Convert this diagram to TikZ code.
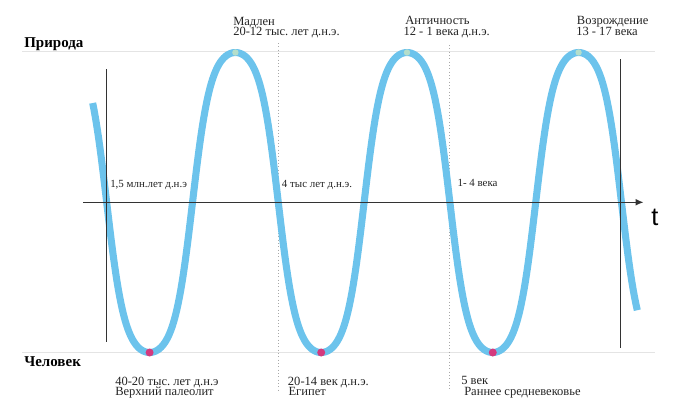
\documentclass[tikz,border=0pt]{standalone}
\usepackage{fontspec}
\setmainfont{Liberation Serif}
\newfontfamily\tfont{Liberation Sans}
\usetikzlibrary{arrows.meta}
\definecolor{wavec}{HTML}{6CC3EC}
\definecolor{peakc}{HTML}{B4DECB}
\definecolor{troughc}{HTML}{D43A7E}
\definecolor{gridc}{HTML}{E4E4E4}
\definecolor{dotc}{HTML}{A8A8A8}
\definecolor{axisc}{HTML}{333333}
\definecolor{txtc}{HTML}{222222}
\frenchspacing
\begin{document}
\begin{tikzpicture}[x=0.75pt,y=-0.75pt,
  lbl/.style={font=\fontsize{9.4}{10}\selectfont, anchor=base west, inner sep=0pt, text=txtc},
  midlbl/.style={font=\fontsize{8.2}{9}\selectfont, anchor=base west, inner sep=0pt, text=txtc},
  pole/.style={font=\bfseries\fontsize{11.25}{12}\selectfont, anchor=base west, inner sep=0pt, text=black},
  gridline/.style={gridc, line width=0.6pt},
  dotline/.style={dotc, dotted, line width=0.5pt},
  blackline/.style={axisc, line width=0.9pt},
  wave/.style={wavec, line width=5.3pt},
  peakdot/.style={fill=peakc, draw=none},
  troughdot/.style={fill=troughc, draw=none}]
\useasboundingbox (0,0) rectangle (697,418);

% faint horizontal guide lines
\coordinate (gtl) at (22,51.5);  \coordinate (gtr) at (655,51.5);
\coordinate (gbl) at (22,352.5); \coordinate (gbr) at (655,352.5);
\draw[gridline] (gtl) -- (gtr);
\draw[gridline] (gbl) -- (gbr);

% dotted period separators
\coordinate (d1t) at (278.5,43); \coordinate (d1b) at (278.5,390);
\coordinate (d2t) at (449.5,45); \coordinate (d2b) at (449.5,390);
\draw[dotline] (d1t) -- (d1b);
\draw[dotline] (d2t) -- (d2b);

% wave
\draw[wave] plot[domain=92.7:637.3, samples=400, smooth]
  (\x, {202.5+150*tanh(1.35*sin(2.0979*(\x-106.7)))/0.8741});

% black vertical lines
\coordinate (v1t) at (106.7,69.3); \coordinate (v1b) at (106.7,341.7);
\coordinate (v2t) at (620.5,59.3); \coordinate (v2b) at (620.5,348.3);
\draw[blackline] (v1t) -- (v1b);
\draw[blackline] (v2t) -- (v2b);

% time axis
\coordinate (ax0) at (83.3,202.3); \coordinate (ax1) at (643.5,202.3);
\draw[blackline, -{Latex[length=6pt,width=5.2pt]}] (ax0) -- (ax1);
\node[inner sep=0pt, text=black] (t) at (655,217.5) {\tfont\fontsize{19}{20}\selectfont t};

% peak and trough markers
\foreach \px in {235.4, 407, 578.6}
  \fill[peakdot] (\px,52.5) circle (3.2);
\foreach \px in {149.6, 321.2, 492.8}
  \fill[troughdot] (\px,352.5) circle (4);

% pole labels
\node[pole] (nat) at (24,47) {Природа};
\node[pole] (hum) at (24,366) {Человек};

% top labels
\node[lbl] (m1) at (233,25) {Мадлен};
\node[lbl] (m2) at (233,35.7) {20-12 тыс. лет д.н.э.};
\node[lbl] (a1) at (405,24.5) {Античность};
\node[lbl] (a2) at (403.3,35.7) {12 - 1 века д.н.э.};
\node[lbl] (r1) at (576.7,24.5) {Возрождение};
\node[lbl] (r2) at (576,35.7) {13 - 17 века};

% middle labels
\node[midlbl] (c1) at (110,187.3) {1,5 млн.лет д.н.э};
\node[midlbl] (c2) at (281.7,187) {4 тыс лет д.н.э.};
\node[midlbl] (c3) at (457.3,186.7) {1- 4 века};

% bottom labels
\node[lbl] (b1) at (115,385) {40-20 тыс. лет д.н.э};
\node[lbl] (b2) at (115,395.5) {Верхний палеолит};
\node[lbl] (e1) at (287.7,385) {20-14 век д.н.э.};
\node[lbl] (e2) at (288.3,395.5) {Египет};
\node[lbl] (s1) at (461,384.5) {5 век};
\node[lbl] (s2) at (464,395.5) {Раннее средневековье};
\end{tikzpicture}
\end{document}
